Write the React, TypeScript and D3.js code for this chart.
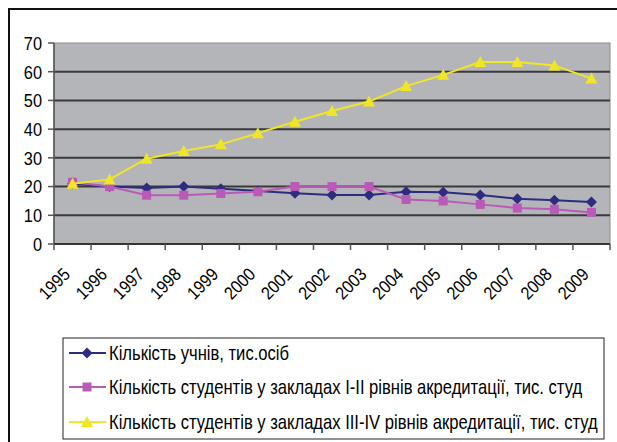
import React from "react";
import * as d3 from "d3";

const years = ["1995", "1996", "1997", "1998", "1999", "2000", "2001", "2002", "2003", "2004", "2005", "2006", "2007", "2008", "2009"];
const pupils = [21, 20, 19.5, 20, 19.2, 18.5, 17.7, 17.1, 17.1, 18.2, 18.0, 17.1, 15.8, 15.2, 14.6];
const studentsI_II = [21.5, 20, 17, 17, 17.6, 18.2, 20, 20, 20, 15.5, 15, 13.8, 12.5, 12.1, 11];
const studentsIII_IV = [21, 22.5, 29.7, 32.4, 34.7, 38.6, 42.6, 46.3, 49.6, 55, 58.9, 63.4, 63.4, 62.2, 57.6];
const yTicks = [0, 10, 20, 30, 40, 50, 60, 70];

const seriesNames = [
  "Кількість учнів, тис.осіб",
  "Кількість студентів у закладах I-II рівнів акредитації, тис. студ",
  "Кількість студентів у закладах III-IV рівнів акредитації, тис. студ",
];
const colors = ["#2e2c7e", "#b95ab8", "#f0e626"];
const shapes = ["diamond", "square", "triangle"];

// the original uses a condensed face; squeeze the installed one to fit
const font = "'Liberation Sans', Arial, sans-serif";

const Marker = ({ type, x, y, color }: { type: string; x: number; y: number; color: string }) => {
  if (type === "diamond") {
    return <path d={`M${x},${y - 5.5}L${x + 5.5},${y}L${x},${y + 5.5}L${x - 5.5},${y}Z`} fill={color} />;
  }
  if (type === "square") {
    return <rect x={x - 4.5} y={y - 4.5} width={9} height={9} fill={color} />;
  }
  return <path d={`M${x},${y - 6}L${x + 6},${y + 5}L${x - 6},${y + 5}Z`} fill={color} />;
};

const App = () => {
  const W = 617, H = 442;
  const left = 54, right = 610, top = 43, bottom = 244;

  const x = d3.scaleBand<string>().domain(years).range([left, right]);
  const y = d3.scaleLinear().domain([0, 70]).range([bottom, top]);
  const cx = (yr: string) => (x(yr) ?? 0) + x.bandwidth() / 2;

  const allSeries = [pupils, studentsI_II, studentsIII_IV];
  const line = d3.line<number>().x((_, i) => cx(years[i])).y((v) => y(v));

  const legendTop = 338, legendLeft = 63, legendRight = 604, legendBottom = 439;
  const legendRows = [353, 387, 422];

  return (
    <svg width={W} height={H} style={{ position: "absolute", left: 0, top: 0, background: "#fff" }}>
      {/* outer frame, cut off at right and bottom */}
      <rect x={9} y={9} width={W + 10} height={H + 10} fill="none" stroke="#111" strokeWidth={2} />

      {/* plot area */}
      <rect x={left} y={top} width={right - left} height={bottom - top} fill="#b4b5b9" stroke="#8a8a8e" strokeWidth={1} />

      {yTicks.filter((t) => t > 0 && t < 70).map((t) => (
        <line key={t} x1={left} x2={right} y1={y(t)} y2={y(t)} stroke="#3a3a3c" strokeWidth={2} />
      ))}

      {/* axes */}
      <line x1={left} x2={left} y1={top} y2={bottom} stroke="#555" strokeWidth={1.5} />
      <line x1={left} x2={right} y1={bottom} y2={bottom} stroke="#333" strokeWidth={2} />
      {yTicks.map((t) => (
        <g key={t}>
          <line x1={left - 6} x2={left} y1={y(t)} y2={y(t)} stroke="#555" strokeWidth={1.5} />
          <text
            transform={`translate(42,${y(t)}) scale(0.86,1)`}
            dy="0.36em"
            textAnchor="end"
            fontFamily={font}
            fontSize={19}
            fill="#000"
          >
            {t}
          </text>
        </g>
      ))}
      {years.concat(["end"]).map((yr, i) => {
        const xx = left + i * x.bandwidth();
        return <line key={yr} x1={xx} x2={xx} y1={bottom} y2={bottom + 6} stroke="#555" strokeWidth={1.5} />;
      })}
      {years.map((yr) => (
        <text
          key={yr}
          transform={`translate(${cx(yr) - 6},${bottom + 27}) rotate(-45) scale(0.88,1)`}
          textAnchor="end"
          dy="0.36em"
          fontFamily={font}
          fontSize={18}
          fill="#000"
        >
          {yr}
        </text>
      ))}

      {/* series */}
      {allSeries.map((s, si) => (
        <g key={si}>
          <path d={line(s) ?? ""} fill="none" stroke={colors[si]} strokeWidth={2} />
          {s.map((v, i) => (
            <Marker key={i} type={shapes[si]} x={cx(years[i])} y={y(v)} color={colors[si]} />
          ))}
        </g>
      ))}

      {/* legend */}
      <rect x={legendLeft} y={legendTop} width={legendRight - legendLeft} height={legendBottom - legendTop} fill="#fff" stroke="#222" strokeWidth={1} />
      {seriesNames.map((name, i) => (
        <g key={name}>
          <line x1={69} x2={106} y1={legendRows[i]} y2={legendRows[i]} stroke={colors[i]} strokeWidth={2} />
          <Marker type={shapes[i]} x={87} y={legendRows[i]} color={colors[i]} />
          <text
            transform={`translate(109,${legendRows[i]}) scale(0.83,1)`}
            dy="0.36em"
            fontFamily={font}
            fontSize={20}
            fill="#000"
          >
            {name}
          </text>
        </g>
      ))}
    </svg>
  );
};

export default App;
